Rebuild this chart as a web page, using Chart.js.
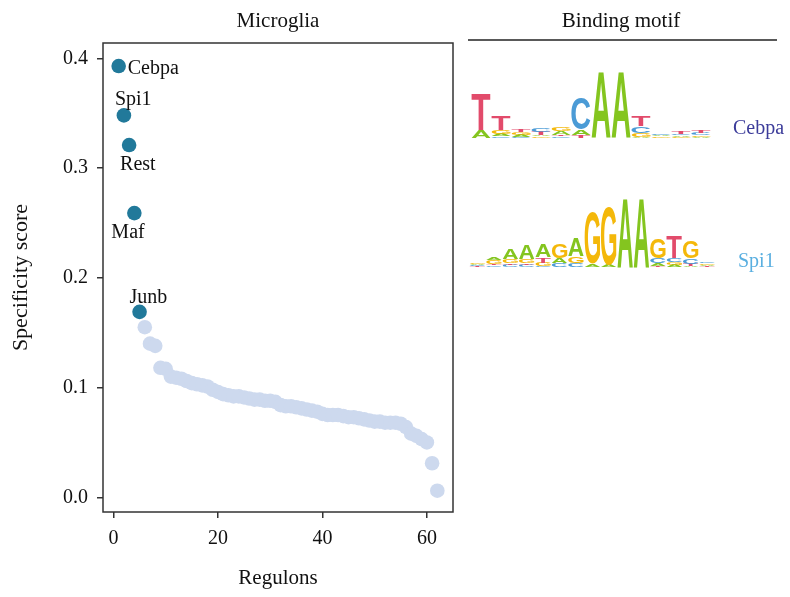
<!DOCTYPE html>
<html>
<head>
<meta charset="utf-8">
<script src="https://cdn.jsdelivr.net/npm/chart.js@4.4.1/dist/chart.umd.min.js"></script>
<style>
  body { margin: 0; background: #fff; }
  canvas { display: block; }
</style>
</head>
<body>
<canvas id="myChart" width="790" height="597"></canvas>
<script>
// regulon specificity scores, ranked
const regulonScores = [
  0.393, 0.348, 0.321, 0.259, 0.169, 0.155, 0.140, 0.138, 0.118, 0.117,
  0.110, 0.109, 0.108, 0.106, 0.104, 0.103, 0.102, 0.101, 0.098, 0.096,
  0.094, 0.093, 0.092, 0.092, 0.091, 0.090, 0.089, 0.089, 0.088, 0.088,
  0.087, 0.084, 0.083, 0.083, 0.082, 0.081, 0.080, 0.079, 0.078, 0.076,
  0.075, 0.075, 0.075, 0.074, 0.073, 0.073, 0.072, 0.071, 0.070, 0.069,
  0.069, 0.068, 0.068, 0.068, 0.067, 0.064, 0.058, 0.056, 0.053, 0.050,
  0.031, 0.006
]
const topRegulons = ['Cebpa', 'Spi1', 'Rest', 'Maf', 'Junb']
const xTicks = [0, 20, 40, 60]
const yTicks = [0, 0.1, 0.2, 0.3, 0.4]

// motif columns, letters stacked bottom to top, heights in bits
const cebpaMotif = [
  [['A', 0.23], ['T', 1.05]],
  [['C', 0.05], ['A', 0.06], ['G', 0.12], ['T', 0.41]],
  [['C', 0.03], ['A', 0.06], ['G', 0.07], ['T', 0.08]],
  [['G', 0.04], ['A', 0.04], ['T', 0.10], ['C', 0.10]],
  [['C', 0.04], ['T', 0.05], ['A', 0.10], ['G', 0.13]],
  [['T', 0.08], ['A', 0.15], ['C', 0.93]],
  [['A', 1.94]],
  [['A', 1.94]],
  [['A', 0.03], ['G', 0.10], ['C', 0.20], ['T', 0.31]],
  [['G', 0.04], ['A', 0.04], ['C', 0.05]],
  [['G', 0.03], ['A', 0.04], ['C', 0.05], ['T', 0.08]],
  [['A', 0.03], ['G', 0.05], ['C', 0.06], ['T', 0.09]]
]
const spi1Motif = [
  [['T', 0.03], ['C', 0.035], ['A', 0.035], ['G', 0.04]],
  [['C', 0.045], ['T', 0.05], ['G', 0.10], ['A', 0.09]],
  [['C', 0.07], ['T', 0.05], ['G', 0.12], ['A', 0.32]],
  [['C', 0.07], ['T', 0.05], ['G', 0.12], ['A', 0.42]],
  [['C', 0.03], ['G', 0.10], ['T', 0.15], ['A', 0.39]],
  [['C', 0.12], ['A', 0.15], ['G', 0.44]],
  [['C', 0.12], ['G', 0.20], ['A', 0.54]],
  [['A', 0.09], ['G', 1.50]],
  [['A', 0.06], ['G', 1.70]],
  [['A', 2.03]],
  [['A', 2.03]],
  [['T', 0.03], ['A', 0.08], ['C', 0.15], ['G', 0.59]],
  [['A', 0.06], ['G', 0.09], ['C', 0.12], ['T', 0.64]],
  [['A', 0.04], ['T', 0.06], ['C', 0.15], ['G', 0.49]],
  [['T', 0.03], ['A', 0.04], ['G', 0.04], ['C', 0.035]]
]

const serif = "'Liberation Serif', 'Times New Roman', serif"
const darkDot = '#21799a'
const lightDot = '#cdd9ee'
const baseColors = { A: '#84c51f', C: '#4b9bd6', G: '#f4b80a', T: '#e24b6b' }

// label offsets from point centre (left edge of text, baseline)
const labelOffsets = {
  Cebpa: [9, 8], Spi1: [-9, -10], Rest: [-9, 25], Maf: [-23, 25], Junb: [-10, -9]
}

const logos = [
  { name: 'Cebpa', motif: cebpaMotif, x: 471, base: 137.7, colW: 20, nameX: 733, nameY: 134, color: '#3c3c9a' },
  { name: 'Spi1', motif: spi1Motif, x: 469.3, base: 267, colW: 16.4, nameX: 738, nameY: 267, color: '#5aafe0' }
]
const pxPerBit = 34

function drawLetter(ctx, letter, x, yTop, w, h) {
  ctx.save()
  ctx.font = "bold 100px 'Liberation Sans', Arial, sans-serif"
  ctx.textAlign = 'left'
  ctx.textBaseline = 'alphabetic'
  const m = ctx.measureText(letter)
  const gw = m.actualBoundingBoxLeft + m.actualBoundingBoxRight
  const gh = m.actualBoundingBoxAscent + m.actualBoundingBoxDescent
  ctx.translate(x, yTop)
  ctx.scale(w / gw, h / gh)
  ctx.fillStyle = baseColors[letter]
  ctx.fillText(letter, m.actualBoundingBoxLeft, m.actualBoundingBoxAscent)
  ctx.restore()
}

const extras = {
  id: 'extras',
  afterDraw(chart) {
    const ctx = chart.ctx
    const area = chart.chartArea
    ctx.save()
    // box round the plot
    ctx.strokeStyle = '#333'
    ctx.lineWidth = 1.5
    ctx.strokeRect(area.left, area.top, area.right - area.left, area.bottom - area.top)

    ctx.fillStyle = '#111'
    ctx.font = '21px ' + serif
    ctx.textAlign = 'center'
    ctx.textBaseline = 'alphabetic'
    ctx.fillText('Microglia', (area.left + area.right) / 2, 27)
    ctx.fillText('Binding motif', 621, 27)
    ctx.beginPath()
    ctx.moveTo(468, 40)
    ctx.lineTo(777, 40)
    ctx.strokeStyle = '#222'
    ctx.stroke()

    // point labels
    const meta = chart.getDatasetMeta(0)
    ctx.font = '20px ' + serif
    ctx.textAlign = 'left'
    ctx.fillStyle = '#111'
    meta.data.forEach((pt, i) => {
      const name = topRegulons[i]
      const off = labelOffsets[name]
      ctx.fillText(name, pt.x + off[0], pt.y + off[1])
    })

    // sequence logos
    logos.forEach(logo => {
      logo.motif.forEach((col, c) => {
        let y = logo.base
        const x = logo.x + c * logo.colW
        col.forEach(([letter, bits]) => {
          const h = bits * pxPerBit
          if (h > 0.4) drawLetter(ctx, letter, x + 0.5, y - h, logo.colW - 1, h)
          y -= h
        })
      })
      ctx.font = '20px ' + serif
      ctx.fillStyle = logo.color
      ctx.textAlign = 'left'
      ctx.fillText(logo.name, logo.nameX, logo.nameY)
    })
    ctx.restore()
  }
}

const tickFont = { family: serif, size: 20 }

const config = {
  type: 'scatter',
  data: {
    datasets: [{
      label: 'top',
      data: topRegulons.map((n, i) => ({ x: i + 1, y: regulonScores[i] })),
      backgroundColor: darkDot,
      borderWidth: 0,
      pointRadius: 7.3
    }, {
      label: 'rest',
      data: regulonScores.slice(topRegulons.length).map((v, i) => ({ x: i + topRegulons.length + 1, y: v })),
      backgroundColor: lightDot,
      borderWidth: 0,
      pointRadius: 7.3
    }]
  },
  options: {
    responsive: false,
    animation: false,
    devicePixelRatio: 1,
    layout: { padding: { top: 43, right: 337, left: 0, bottom: 0 } },
    plugins: { legend: { display: false }, tooltip: { enabled: false } },
    scales: {
      x: {
        type: 'linear',
        min: -2,
        max: 65,
        afterBuildTicks: s => { s.ticks = xTicks.map(v => ({ value: v })) },
        afterFit: s => { s.height = 85 },
        border: { display: false },
        grid: { drawOnChartArea: false, drawTicks: true, tickLength: 6, color: '#333', lineWidth: 1.5 },
        ticks: { font: tickFont, color: '#111', padding: 9, maxRotation: 0 },
        title: { display: true, text: 'Regulons', font: { family: serif, size: 21 }, color: '#111', padding: { top: 0, bottom: 6 } }
      },
      y: {
        type: 'linear',
        min: -0.0134,
        max: 0.414,
        afterBuildTicks: s => { s.ticks = yTicks.map(v => ({ value: v })) },
        afterFit: s => { s.width = 103 },
        border: { display: false },
        grid: { drawOnChartArea: false, drawTicks: true, tickLength: 6, color: '#333', lineWidth: 1.5 },
        ticks: { font: tickFont, color: '#111', padding: 9, callback: v => v.toFixed(1) },
        title: { display: true, text: 'Specificity score', font: { family: serif, size: 22 }, color: '#111', padding: { top: 8, bottom: 0 } }
      }
    }
  },
  plugins: [extras]
}

const myChart = new Chart(document.getElementById('myChart'), config)
</script>
</body>
</html>
